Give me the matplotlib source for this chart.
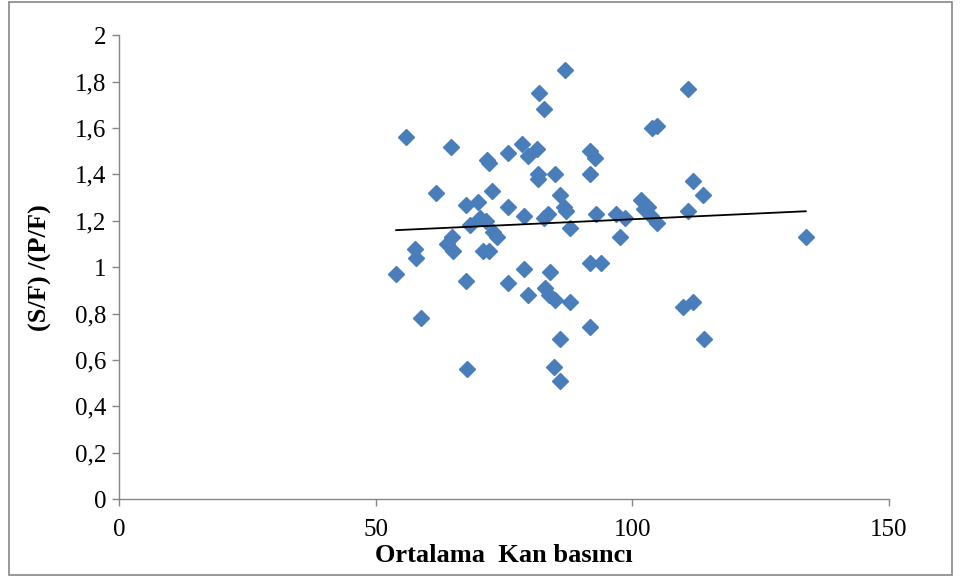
import numpy as np
import matplotlib.pyplot as plt
from matplotlib.patches import Rectangle
from matplotlib.ticker import FuncFormatter

# Mean blood pressure vs (S/F)/(P/F) ratio
kan_basinci = [54, 56, 57.7, 57.9, 58.8, 61.8, 63.9, 64.9, 65, 64.7,
               67.6, 67.8, 67.6, 68.4, 70, 70.3, 70.9, 71.7, 72, 71.5,
               72.1, 72.7, 72.9, 73.6, 75.8, 75.8, 75.8, 78.5, 79.7, 78.9,
               78.9, 79.7, 81.4, 81.8, 81.6, 81.6, 82.8, 82.8, 83.6, 83,
               84, 83.8, 85, 85, 84.7, 85.9, 85.9, 85.9, 86.9, 86.7,
               87.1, 87.9, 87.9, 91.8, 91.8, 91.8, 91.8, 92.7, 92.9, 93.9,
               96.8, 97.6, 98.6, 101.7, 102.3, 103, 103.6, 103.8, 104.8, 104.8,
               110.8, 109.9, 110.8, 111.8, 111.8, 113.8, 114, 133.8]
oran = [0.97, 1.56, 1.08, 1.04, 0.78, 1.32, 1.10, 1.13, 1.07, 1.52,
        0.94, 0.56, 1.27, 1.18, 1.28, 1.21, 1.07, 1.46, 1.45, 1.20,
        1.07, 1.33, 1.15, 1.13, 1.49, 1.26, 0.93, 1.53, 1.48, 1.22,
        0.99, 0.88, 1.51, 1.75, 1.40, 1.38, 1.68, 1.21, 1.23, 0.91,
        0.98, 0.88, 1.40, 0.86, 0.57, 1.31, 0.69, 0.51, 1.85, 1.26,
        1.24, 1.17, 0.85, 1.50, 1.40, 1.02, 0.74, 1.47, 1.23, 1.02,
        1.23, 1.13, 1.21, 1.29, 1.25, 1.26, 1.22, 1.60, 1.61, 1.19,
        1.77, 0.83, 1.24, 0.85, 1.37, 1.31, 0.69, 1.13]

x_ticks = [0, 50, 100, 150]
y_ticks = np.arange(0, 2.01, 0.2)

x = np.array(kan_basinci)
y = np.array(oran)

fig = plt.figure(figsize=(9.62, 5.77), dpi=100)
ax = fig.add_axes([0.1237, 0.135, 0.8003, 0.804])

ax.plot(x, y, linestyle='none', marker='D', markersize=8.6,
        color='#4A7EBB', markeredgecolor='#4A7EBB', zorder=3)

# linear trend line over the data range
k, b = np.polyfit(x, y, 1)
xs = np.array([x.min(), x.max()])
ax.plot(xs, k * xs + b, color='black', linewidth=1.3, zorder=4)

ax.set_xlim(0, 150)
ax.set_ylim(0, 2)
ax.set_xticks(x_ticks)
ax.set_yticks(y_ticks)

def comma(v, pos):
    s = f"{v:.1f}".rstrip('0').rstrip('.')
    return s.replace('.', ',')

ax.yaxis.set_major_formatter(FuncFormatter(comma))
ax.xaxis.set_major_formatter(FuncFormatter(comma))

for side in ['top', 'right']:
    ax.spines[side].set_visible(False)
for side in ['left', 'bottom']:
    ax.spines[side].set_color('#868686')
    ax.spines[side].set_linewidth(1.0)

ax.tick_params(axis='both', colors='#868686', length=5, width=1.0,
               labelcolor='black', labelsize=18)
ax.tick_params(axis='x', pad=9)
ax.tick_params(axis='y', pad=4)
for lab in ax.get_xticklabels() + ax.get_yticklabels():
    lab.set_family('Liberation Serif')

ax.set_xlabel('Ortalama  Kan basıncı', fontsize=19, fontweight='bold',
              family='Liberation Serif')
ax.set_ylabel('(S/F) /(P/F)', fontsize=19, fontweight='bold',
              family='Liberation Serif')
ax.xaxis.set_label_coords(0.5, -0.097)
ax.yaxis.set_label_coords(-0.087, 0.5)

# outer chart frame
fig.patches.append(Rectangle((0.009, 0.003), 0.981, 0.994,
                             transform=fig.transFigure, fill=False,
                             edgecolor='#868686', linewidth=1.2))

fig.savefig('out.png', dpi=100)
